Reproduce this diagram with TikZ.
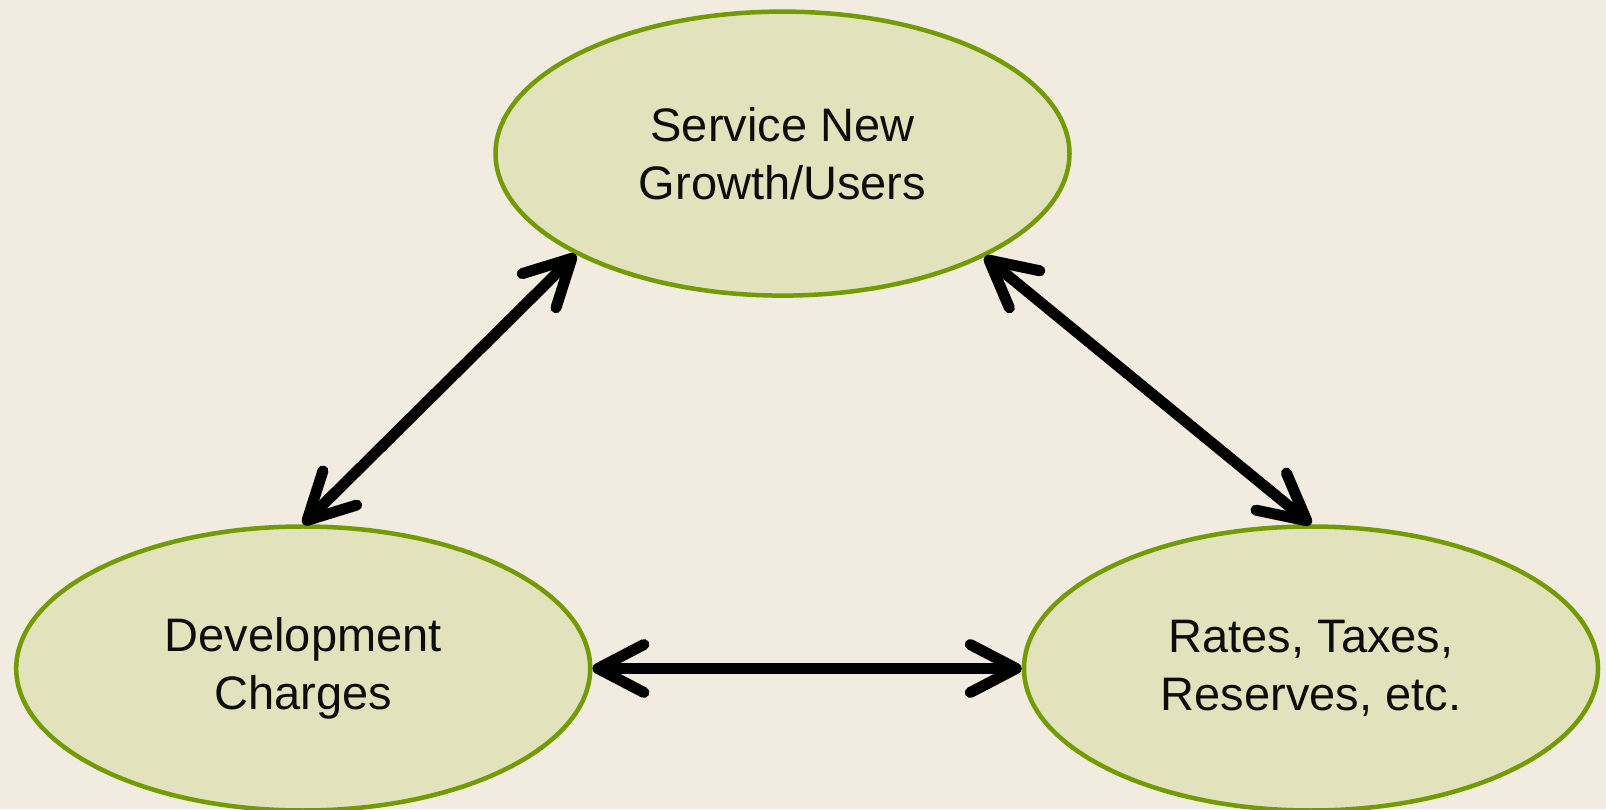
\documentclass[tikz,border=0pt]{standalone}
\usepackage{fontspec}
\setmainfont{Liberation Sans}
\usepackage{xcolor}
\definecolor{paper}{HTML}{F2EBE0}
\definecolor{leaf}{HTML}{E2E2BC}
\definecolor{leafline}{HTML}{719B00}
\definecolor{ink}{HTML}{0D0D0D}
\usetikzlibrary{arrows.meta, shapes.geometric}

\begin{document}
\begin{tikzpicture}[
  x=1pt, y=1pt,
  oval/.style={ellipse, draw=leafline, fill=leaf, line width=4.5pt, inner sep=0pt,
    minimum width=574pt, minimum height=284pt, align=center, text=ink,
    font=\fontsize{47}{58.5}\selectfont},
  link/.style={line width=11pt, line cap=round,
    {Straight Barb[length=46pt, width=48pt, round]}-{Straight Barb[length=46pt, width=48pt, round]}},
]

% canvas
\fill[paper] (0,0) rectangle (1606,809);
\useasboundingbox (0,0) rectangle (1606,809);

\node[oval] (growth) at (782.5,655.4) {Service New\\Growth/Users};
\node[oval] (charges) at (303.2,140.5) {Development\\Charges};
\node[oval] (rates) at (1311,140.5) {Rates, Taxes,\\Reserves, etc.};

% links between the three
\draw[link] (charges.north) -- (growth.206.7);
\draw[link] (growth.333.1) -- (rates.north);
\draw[link] (charges.east) -- (rates.west);

\end{tikzpicture}
\end{document}
